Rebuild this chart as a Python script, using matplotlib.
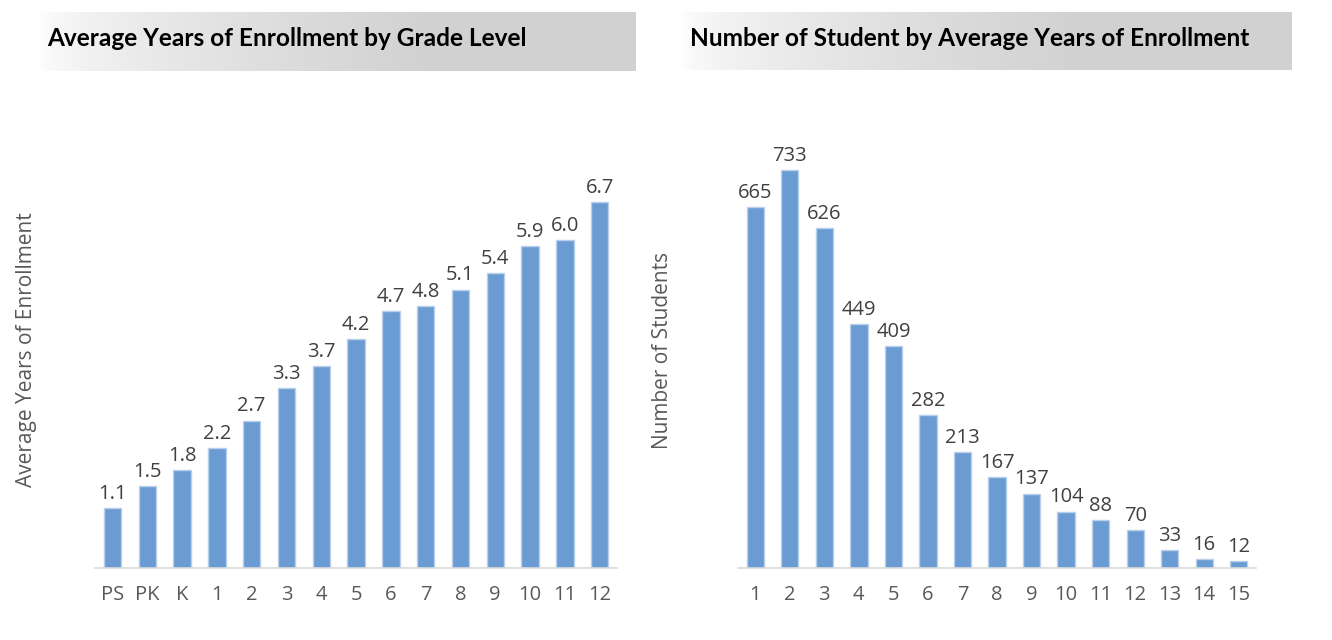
import matplotlib.pyplot as plt
import numpy as np

# 数据
grades = ['PS', 'PK', 'K', '1', '2', '3', '4', '5', '6', '7', '8', '9', '10', '11', '12']
avg_years = [1.1, 1.5, 1.8, 2.2, 2.7, 3.3, 3.7, 4.2, 4.7, 4.8, 5.1, 5.4, 5.9, 6.0, 6.7]

year_bins = ['1', '2', '3', '4', '5', '6', '7', '8', '9', '10', '11', '12', '13', '14', '15']
n_students = [665, 733, 626, 449, 409, 282, 213, 167, 137, 104, 88, 70, 33, 16, 12]

bar_color = '#6A9BD3'
edge_color = '#B8D0EC'
label_gray = '#595959'
value_gray = '#404040'

W, H = 1332, 640
fig = plt.figure(figsize=(W / 100, H / 100), dpi=100)


def px(x0, y0, w, h):
    # 像素坐标 -> figure坐标
    return [x0 / W, (H - y0 - h) / H, w / W, h / H]


def banner(rect, title, tx):
    ax = fig.add_axes(px(*rect))
    t = np.linspace(0, 1, 400)
    g = 1 - (1 - 0.82) * np.clip(t * 1.5, 0, 1) ** 0.6
    img = np.dstack([g, g, g]).repeat(2, axis=0)
    ax.imshow(img, aspect='auto', extent=[0, 1, 0, 1])
    ax.set_xlim(0, 1)
    ax.set_ylim(0, 1)
    ax.axis('off')
    fig.text(tx / W, 1 - 39 / H, title, fontsize=17.6, fontweight='bold',
             family='Lato', color='black', va='center', ha='left')


def bars(rect, cats, vals, ymax, fmt, ylabel, ylab_x):
    ax = fig.add_axes(px(*rect))
    x = np.arange(len(cats))
    b = ax.bar(x, vals, width=0.5, color=bar_color, edgecolor=edge_color, linewidth=1)
    ax.bar_label(b, labels=[fmt.format(v) for v in vals], padding=3,
                 fontsize=14.5, color=value_gray, family='Open Sans')
    ax.set_xlim(-0.5, len(cats) - 0.5)
    ax.set_ylim(0, ymax)
    ax.set_xticks(x)
    ax.set_xticklabels(cats, fontsize=14.5, color=label_gray, family='Open Sans')
    ax.tick_params(axis='x', length=0, pad=12)
    ax.set_yticks([])
    for s in ['top', 'right', 'left']:
        ax.spines[s].set_visible(False)
    ax.spines['bottom'].set_color('#D9D9D9')
    ax.spines['bottom'].set_linewidth(1.2)
    fig.text(ylab_x / W, 1 - 350 / H, ylabel, rotation=90, fontsize=15,
             color=label_gray, family='Open Sans', va='center', ha='center')
    return ax


banner((38, 12, 598, 59), 'Average Years of Enrollment by Grade Level', 47)
banner((680, 12, 612, 58), 'Number of Student by Average Years of Enrollment', 690)

bars((95, 100, 522, 468), grades, avg_years, 468 / 54.6, '{:.1f}',
     'Average Years of Enrollment', 27)
bars((738, 100, 518, 468), year_bins, n_students, 468 / 0.543, '{:d}',
     'Number of Students', 662)

plt.savefig('out.png', dpi=100)
